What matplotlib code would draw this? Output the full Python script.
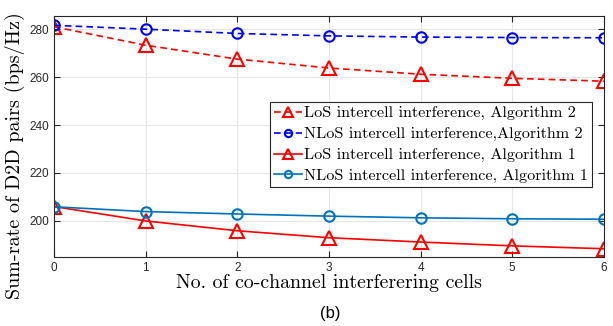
import matplotlib
matplotlib.use('Agg')
import matplotlib.pyplot as plt

# interfering cells
cells = [0, 1, 2, 3, 4, 5, 6]

# sum-rate (bps/Hz)
los_alg2 = [281.0, 273.3, 267.5, 263.8, 261.2, 259.5, 258.3]
nlos_alg2 = [281.6, 280.0, 278.2, 277.2, 276.7, 276.5, 276.4]
los_alg1 = [206.0, 200.0, 195.9, 193.0, 191.2, 189.6, 188.4]
nlos_alg1 = [205.9, 203.9, 202.9, 202.0, 201.3, 200.9, 200.7]

labels = ['LoS intercell interference, Algorithm 2',
          'NLoS intercell interference,Algorithm 2',
          'LoS intercell interference, Algorithm 1',
          'NLoS intercell interference, Algorithm 1']

serif = 'cmr10'
sans = 'Liberation Sans'

fig = plt.figure(figsize=(6.13, 3.26), dpi=100)
ax = fig.add_axes([0.088, 0.212, 0.897, 0.739])

ax.plot(cells, los_alg2, '--', color='#FF0000', marker='^', ms=9.5, mfc='none', mew=1.5, lw=1.2,
        dashes=(4, 2.5), label=labels[0])
ax.plot(cells, nlos_alg2, '--', color='#0000FF', marker='o', ms=7.5, mfc='none', mew=1.5, lw=1.2,
        dashes=(4, 2.5), label=labels[1])
ax.plot(cells, los_alg1, '-', color='#FF0000', marker='^', ms=9.5, mfc='none', mew=1.5, lw=1.2, label=labels[2])
ax.plot(cells, nlos_alg1, '-', color='#0072BD', marker='o', ms=7.5, mfc='none', mew=1.5, lw=1.2, label=labels[3])

ax.set_xlim(0, 6)
ax.set_ylim(185, 285.5)
ax.set_xticks(cells)
ax.set_yticks([200, 220, 240, 260, 280])
ax.grid(True, color='#e6e6e6', lw=0.8)
ax.set_axisbelow(True)
ax.tick_params(direction='in', top=True, right=True, labelsize=8.5, colors='#262626', length=4)
for lab in ax.get_xticklabels() + ax.get_yticklabels():
    lab.set_family(sans)
for s in ax.spines.values():
    s.set_color('#262626')
    s.set_linewidth(0.8)

ax.set_xlabel('No. of co-channel interferering cells', family=serif, fontsize=14.3, labelpad=0)
ax.set_ylabel('Sum-rate of D2D pairs (bps/Hz)', family=serif, fontsize=14.5, labelpad=2)
ax.yaxis.set_label_coords(-0.052, 0.42)

leg = ax.legend(loc='upper right', bbox_to_anchor=(0.978, 0.643), prop={'family': serif, 'size': 11.7},
                fancybox=False, framealpha=1, edgecolor='#262626', handlelength=1.7, markerscale=0.7,
                borderpad=0.25, labelspacing=0.4, handletextpad=0.1, borderaxespad=0)
leg.get_frame().set_linewidth(0.8)

fig.text(0.538, 0.015, '(b)', family=sans, fontsize=12, ha='center', va='bottom')

fig.savefig('out.png', dpi=100)
